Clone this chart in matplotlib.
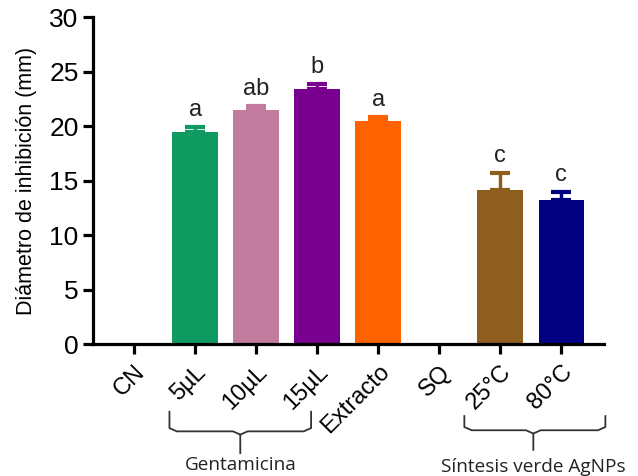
import numpy as np
import matplotlib.pyplot as plt

# datos
grupos = ["CN", "5µL", "10µL", "15µL", "Extracto", "SQ", "25°C", "80°C"]
medias = [0, 19.5, 21.5, 23.45, 20.45, 0, 14.15, 13.2]
errores = [0, 0.4, 0.35, 0.4, 0.4, 0, 1.55, 0.75]
letras = ["", "a", "ab", "b", "a", "", "c", "c"]
colores = ["white", "#0F9A62", "#C27C9E", "#79008F", "#FF6300", "white", "#8E5E1F", "#000080"]

plt.rcParams["font.family"] = ["Liberation Sans", "DejaVu Sans"]

fig = plt.figure(figsize=(6.38, 4.76), dpi=100)
ax = fig.add_axes([0.146, 0.277, 0.8, 0.687])

x = np.arange(len(grupos))
ax.bar(x, medias, width=0.75, color=colores, zorder=2)
for i in range(len(grupos)):
    if medias[i] > 0:
        ax.errorbar(x[i], medias[i], yerr=[[0], [errores[i]]], fmt="none",
                    ecolor=colores[i], elinewidth=2.5, capsize=7, capthick=3, zorder=1)
        ax.text(x[i], medias[i] + errores[i] + 0.55, letras[i], ha="center", va="bottom",
                fontsize=17, color="#222222")

ax.set_xlim(-0.67, 7.69)
ax.set_ylim(0, 30)
ax.set_yticks(range(0, 31, 5))
ax.set_xticks(x)
ax.set_xticklabels(grupos, rotation=45, ha="right", rotation_mode="anchor", fontsize=17)
ax.tick_params(axis="y", labelsize=19, width=2.3, length=7)
ax.tick_params(axis="x", width=2.3, length=7, pad=5)
ax.set_ylabel("Diámetro de inhibición (mm)", fontsize=15.5, labelpad=9)
for s in ["top", "right"]:
    ax.spines[s].set_visible(False)
for s in ["left", "bottom"]:
    ax.spines[s].set_linewidth(2.3)


# llaves bajo los grupos
def llave(x0, x1, xc, ytop, ymid, ybot, texto, ytxt):
    r = 0.12
    ax.plot([x0, x0, x0 + r, xc - r, xc, xc], [ytop, ymid + 0.3, ymid, ymid, ymid - 0.3, ybot],
            color="#333333", lw=1.3, clip_on=False)
    ax.plot([xc, xc + r, x1 - r, x1, x1], [ymid - 0.3, ymid, ymid, ymid + 0.3, ytop],
            color="#333333", lw=1.3, clip_on=False)
    ax.text(xc, ytxt, texto, ha="center", va="center", fontsize=13.7,
            family=["Open Sans", "DejaVu Sans"], color="#222222", clip_on=False)


llave(0.58, 2.9, 1.74, -6.2, -8.0, -10.0, "Gentamicina", -11.1)
llave(5.41, 7.72, 6.54, -6.6, -7.9, -9.7, "Síntesis verde AgNPs", -11.3)

plt.savefig("out.png", dpi=100)
